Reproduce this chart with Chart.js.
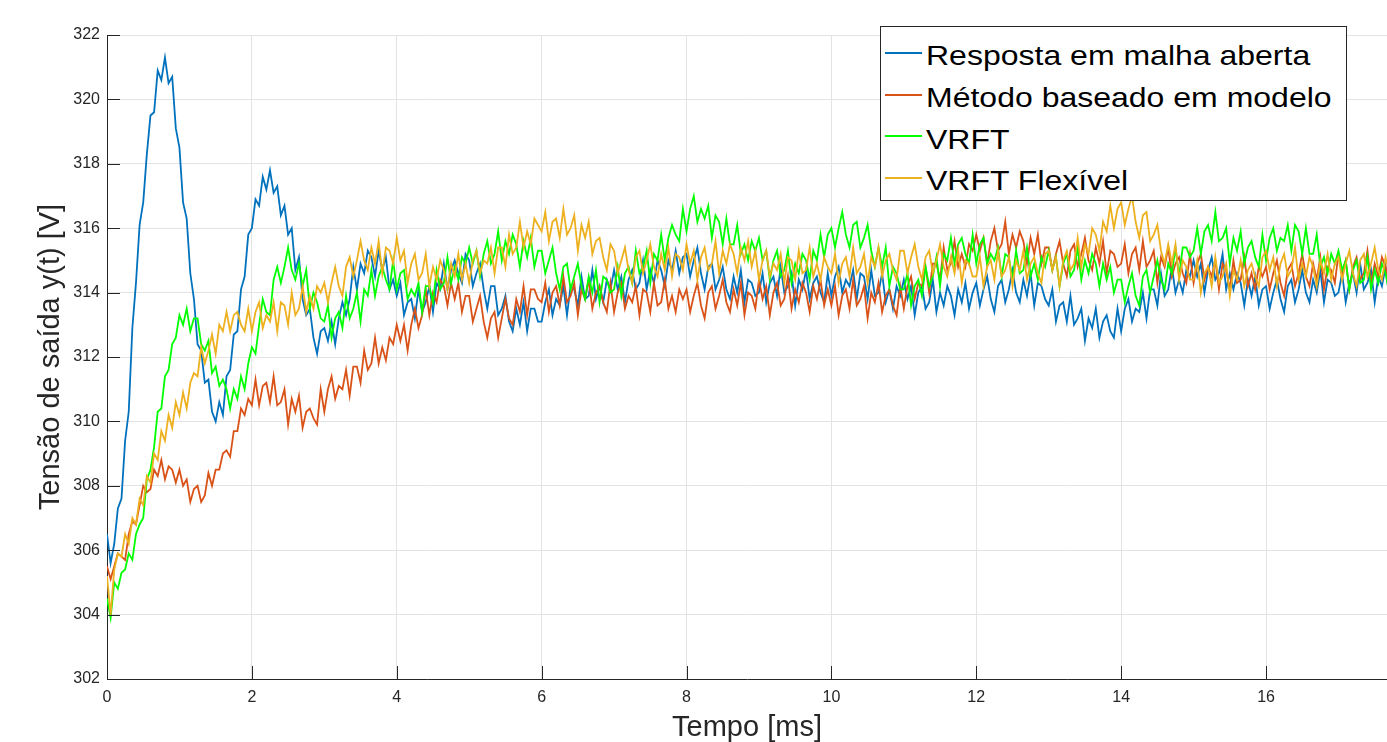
<!DOCTYPE html>
<html>
<head>
<meta charset="utf-8">
<script src="https://cdn.jsdelivr.net/npm/chart.js@4.4.1/dist/chart.umd.min.js"></script>
<style>
html,body{margin:0;padding:0;background:#fff;}
#wrap{position:relative;width:1387px;height:742px;overflow:hidden;}
#legend{position:absolute;left:880px;top:26px;width:467px;height:175px;box-sizing:border-box;border:1px solid #262626;background:#fff;font-family:"Liberation Sans",Arial,sans-serif;}
.row{position:absolute;left:0;height:32px;width:100%;}
.swatch{position:absolute;left:4px;top:12.8px;width:37px;height:2px;}
.lbl{position:absolute;left:45px;top:0;font-size:32px;line-height:32px;white-space:nowrap;color:#000;transform:scaleY(0.87);transform-origin:left center;}
</style>
</head>
<body>
<div id="wrap">
  <canvas id="c" width="1387" height="742"></canvas>
  <div id="legend"></div>
</div>
<script>
// sampling grid (ms)
const sampleStep = 0.05;
const sampleCount = 355;
const time = Array.from({length: sampleCount}, (_, i) => +(i * sampleStep).toFixed(2));

const seriesNames = ['Resposta em malha aberta', 'Método baseado em modelo', 'VRFT', 'VRFT Flexível'];
const seriesColors = ['#0072BD', '#D95319', '#00FF00', '#EDB120'];

const openLoop = [
306.5,305.6,306.2,307.3,307.6,309.4,310.3,312.9,314.3,316.1,316.8,318.3,319.5,319.6,320.9,320.6,321.3,320.5,320.7,319.1,
318.5,316.8,316.3,314.6,313.8,312.4,312.2,311.2,311.3,310.3,310.0,310.6,310.2,311.4,311.6,312.7,312.8,314.1,314.5,315.8,
316.0,316.9,316.7,317.6,317.2,317.8,317.1,317.3,316.4,316.7,315.8,316.0,314.7,315.1,313.8,313.3,313.5,312.6,312.1,312.8,
312.9,312.5,313.1,312.4,313.2,313.7,313.3,313.8,314.8,314.1,314.9,314.6,315.3,315.1,314.5,315.3,314.7,315.1,314.1,314.4,
313.9,314.3,313.3,313.7,313.8,313.2,314.1,313.4,313.7,314.2,313.4,314.3,314.1,314.9,314.1,314.7,315.0,314.6,314.3,315.2,
315.0,314.2,314.6,314.9,314.1,313.5,314.2,314.2,313.3,313.5,313.9,313.1,312.8,313.5,313.0,313.7,312.8,313.5,313.5,313.1,
313.1,313.7,314.1,313.3,313.8,313.6,314.2,313.3,314.2,314.1,313.6,314.5,313.8,313.9,314.7,313.8,314.2,313.7,314.4,314.1,
314.7,314.1,314.5,313.7,314.4,314.7,314.1,314.3,315.0,314.1,314.7,314.3,315.0,314.7,314.2,315.0,314.7,315.3,314.6,315.1,
315.2,314.5,315.0,315.4,314.6,314.1,314.8,314.9,314.1,314.4,314.8,314.1,313.8,314.5,314.0,314.7,313.7,314.4,314.3,313.9,
314.0,314.6,313.7,314.3,314.5,313.9,314.8,314.0,314.2,314.6,313.6,314.4,314.1,314.7,313.8,314.3,314.5,314.0,313.7,314.6,
313.9,314.5,314.8,314.0,314.4,314.2,314.7,313.8,314.6,314.5,313.8,314.7,313.9,314.0,314.6,313.7,314.1,313.5,314.2,313.9,
314.4,313.8,314.2,313.3,314.0,314.2,313.5,313.7,314.4,313.4,314.0,313.6,314.2,313.9,313.3,314.1,313.7,314.3,313.5,314.0,
314.3,313.6,314.1,314.5,313.8,313.4,314.2,314.4,313.7,314.1,314.7,314.0,313.7,314.4,313.9,314.6,313.6,314.3,314.2,313.8,
313.6,314.1,313.1,313.6,313.7,313.1,313.9,313.0,313.2,313.5,312.5,313.2,312.9,313.5,312.6,313.1,313.3,312.8,312.6,313.5,
312.8,313.5,313.8,313.1,313.5,313.4,314.0,313.2,314.1,314.1,313.6,314.6,313.9,314.1,314.8,314.0,314.4,314.0,314.7,314.5,
315.0,314.5,314.9,314.0,314.7,315.1,314.4,314.6,315.2,314.1,314.6,314.1,314.6,314.3,313.6,314.4,313.9,314.5,313.6,314.1,
314.2,313.5,314.0,314.4,313.8,313.4,314.2,314.4,313.7,314.1,314.7,314.0,313.7,314.4,314.0,314.7,313.7,314.4,314.3,313.9,
314.0,314.6,313.7,314.3,314.6,314.0,314.9,314.1,314.3,314.7,313.7,314.5,314.2,314.8,313.9
];

const modelBased = [
305.5,305.1,305.5,305.9,305.8,305.7,306.5,306.9,306.8,307.4,308.0,307.8,307.9,308.5,308.3,308.8,308.2,308.6,308.5,308.1,
308.5,308.0,308.2,307.5,307.9,308.0,307.5,307.7,308.4,308.0,308.5,308.5,309.0,309.1,308.9,309.7,309.7,310.4,310.2,310.7,
310.5,311.3,310.5,311.1,311.2,310.6,311.4,310.5,310.6,311.0,309.9,310.7,310.3,310.8,309.8,310.3,310.4,310.1,309.9,311.0,
310.3,311.0,311.4,310.7,311.1,311.0,311.6,310.8,311.7,311.7,311.2,312.2,311.6,311.8,312.6,311.8,312.3,311.9,312.6,312.4,
313.0,312.5,313.0,312.2,313.0,313.5,312.9,313.3,314.1,313.3,314.0,313.7,314.4,314.2,313.6,314.3,313.8,314.3,313.4,313.9,
313.9,313.1,313.5,313.9,313.1,312.6,313.2,313.4,312.6,313.2,313.8,313.2,313.0,313.8,313.4,314.2,313.3,314.1,314.1,313.8,
313.7,314.3,313.4,314.0,314.2,313.6,314.5,313.7,313.9,314.3,313.3,314.1,313.8,314.4,313.5,314.0,314.2,313.7,313.4,314.3,
313.4,314.0,314.3,313.5,313.9,313.7,314.2,313.3,314.1,314.0,313.4,314.3,313.6,313.7,314.4,313.5,313.9,313.4,314.1,313.8,
314.1,313.4,313.9,314.3,313.6,313.2,314.0,314.2,313.5,313.9,314.4,313.7,313.4,314.1,313.6,314.3,313.3,314.0,313.9,313.5,
314.4,313.8,314.2,313.3,314.0,314.3,313.6,313.8,314.5,313.5,314.1,313.7,314.3,314.0,313.4,314.2,313.8,314.4,313.6,314.1,
313.6,314.2,313.3,313.9,314.1,313.5,314.4,313.6,313.8,314.2,313.2,314.0,313.7,314.3,313.4,313.9,314.1,313.6,313.3,314.2,
313.5,314.2,314.5,313.8,314.3,314.2,314.8,314.0,314.9,314.9,314.4,315.4,314.7,314.9,315.6,314.8,315.2,314.8,315.5,315.3,
315.8,315.3,315.7,314.9,315.6,316.0,315.3,315.5,316.2,315.2,315.8,315.4,315.9,315.6,314.9,315.7,315.2,315.8,314.9,315.4,
315.4,314.7,315.2,315.6,314.9,314.5,315.3,315.5,314.8,315.2,315.7,315.0,314.7,315.4,314.9,315.6,314.6,315.3,315.2,314.8,
314.9,315.5,314.6,315.2,315.4,314.7,315.6,314.8,315.0,315.3,314.3,315.1,314.8,315.4,314.5,314.9,315.1,314.6,314.3,315.2,
314.3,314.9,315.2,314.4,314.8,314.5,315.0,314.1,314.9,314.7,314.1,315.0,314.3,314.4,315.1,314.2,314.6,314.1,314.8,314.5,
314.8,314.1,314.6,315.0,314.3,313.9,314.7,314.9,314.2,314.6,315.2,314.5,314.2,314.9,314.4,315.1,314.1,314.8,314.7,314.3,
315.2,314.6,315.0,314.1,314.8,315.1,314.4,314.6,315.3,314.3,314.9,314.5,315.1,314.8,314.2
];

const vrft = [
304.5,303.9,305.0,304.8,305.3,305.4,305.9,305.7,306.5,306.8,307.0,308.2,308.5,309.2,310.3,310.4,311.4,311.6,312.4,312.6,
313.3,313.0,313.5,312.8,313.2,313.2,312.4,312.2,312.5,311.5,311.7,311.1,311.3,311.0,310.4,311.0,310.7,311.4,311.0,311.8,
312.3,312.1,313.0,313.8,313.4,313.3,314.4,314.8,314.3,314.8,315.4,314.7,314.4,314.9,314.2,314.7,313.5,314.0,313.7,313.2,
313.1,313.6,312.6,313.2,313.4,312.9,313.9,313.2,313.5,314.0,313.1,314.1,313.9,314.7,313.9,314.5,314.8,314.4,314.1,315.0,
314.1,314.6,314.7,313.8,314.1,313.9,314.3,313.4,314.2,314.2,313.7,314.7,314.1,314.3,315.1,314.3,314.8,314.4,315.1,314.9,
315.4,314.9,315.3,314.5,315.2,315.6,314.9,315.2,315.9,315.0,315.6,315.2,315.8,315.5,314.8,315.6,315.1,315.7,314.8,315.3,
315.3,314.6,315.0,315.4,314.6,314.1,314.8,314.9,314.1,314.5,314.9,314.2,313.8,314.5,314.0,314.7,313.7,314.5,314.4,314.0,
314.1,314.8,313.9,314.6,314.8,314.3,315.3,314.6,314.8,315.3,314.3,315.2,315.0,315.8,315.0,315.7,316.1,315.8,315.6,316.6,
315.9,316.6,317.0,316.2,316.6,316.3,316.7,315.7,316.4,316.2,315.5,316.3,315.5,315.5,316.1,315.2,315.5,315.0,315.6,315.3,
315.7,315.0,315.3,314.4,315.0,315.3,314.5,314.7,315.3,314.3,314.9,314.6,315.2,315.0,314.4,315.3,315.0,315.8,315.1,315.8,
316.0,315.4,316.0,316.5,315.8,315.4,316.1,316.2,315.4,315.7,316.1,315.3,314.8,315.4,314.8,315.4,314.2,314.8,314.6,314.1,
314.1,314.6,313.6,314.2,314.4,313.9,314.8,314.2,314.5,315.1,314.2,315.2,315.0,315.7,314.9,315.5,315.7,315.2,314.9,315.8,
314.9,315.5,315.7,314.9,315.2,315.0,315.4,314.5,315.2,315.1,314.4,315.3,314.6,314.7,315.4,314.5,314.9,314.4,315.1,314.8,
315.3,314.7,315.1,314.2,314.9,315.2,314.5,314.7,315.4,314.4,315.0,314.6,315.2,314.9,314.2,314.9,314.4,314.8,314.0,314.4,
314.4,313.7,314.2,314.6,313.9,313.6,314.5,314.7,314.0,314.5,315.0,314.4,314.1,314.9,314.6,315.4,314.5,315.4,315.4,315.1,
315.3,316.0,315.2,315.9,316.1,315.6,316.5,315.6,315.7,316.0,314.9,315.7,315.3,315.9,314.9,315.4,315.6,315.1,314.8,315.8,
315.0,315.7,316.0,315.3,315.7,315.6,316.1,315.3,316.1,315.9,315.2,316.0,315.2,315.2,315.8,314.8,315.1,314.6,315.2,314.9,
315.3,314.7,315.0,314.1,314.7,315.0,314.3,314.4,315.1,314.1,314.7,314.3,314.9,314.6,314.0
];

const vrftFlex = [
305.2,304.0,305.4,305.9,305.8,306.5,306.2,307.0,306.8,307.6,307.4,308.3,308.1,309.0,308.8,309.7,309.4,310.2,309.8,310.6,
310.2,310.9,310.4,311.2,311.5,311.4,312.3,311.8,312.2,312.7,312.1,313.0,312.8,313.4,312.8,313.3,313.4,313.0,312.8,313.5,
312.8,313.4,313.7,312.9,313.3,313.1,313.7,312.8,313.7,313.6,313.0,314.0,313.3,313.5,314.2,313.4,313.9,313.5,314.2,314.0,
314.3,313.7,314.3,314.8,314.2,313.9,314.8,315.1,314.5,315.0,315.6,315.0,314.7,315.4,314.9,315.6,314.6,315.4,315.3,314.9,
315.7,315.0,315.3,314.3,314.9,315.2,314.4,314.6,315.2,314.2,314.8,314.4,315.0,314.7,314.1,314.9,314.5,315.2,314.4,314.9,
314.3,315.0,315.3,314.6,315.0,314.9,315.4,314.6,315.4,315.4,314.8,315.8,315.2,315.4,316.2,315.4,315.9,315.5,316.3,316.1,
315.9,316.5,315.6,316.2,316.3,315.7,316.6,315.8,316.0,316.4,315.3,316.1,315.7,316.2,315.2,315.6,315.7,315.1,314.7,315.5,
315.3,314.6,315.0,315.4,314.7,314.3,315.1,315.3,314.6,315.0,315.5,314.8,314.5,315.2,314.7,315.4,314.5,315.2,315.1,314.7,
315.5,314.9,315.3,314.4,315.1,315.4,314.7,314.9,315.6,314.6,315.3,314.9,315.5,315.2,314.6,315.4,315.0,315.6,314.8,315.3,
314.4,315.0,315.3,314.5,314.9,314.7,315.2,314.3,315.1,315.0,314.4,315.3,314.6,314.7,315.4,314.5,314.9,314.4,315.1,314.8,
314.6,315.2,314.3,314.9,315.1,314.5,315.4,314.6,314.8,315.2,314.3,315.1,314.8,315.4,314.5,315.0,315.2,314.7,314.4,315.3,
315.3,314.6,315.1,315.5,314.8,314.4,315.1,315.3,314.6,315.0,315.5,314.8,314.5,315.1,314.6,315.3,314.3,315.0,314.9,314.5,
314.5,315.1,314.2,314.8,315.0,314.4,315.3,314.5,314.7,315.1,314.2,315.0,314.7,315.3,314.4,314.9,315.1,314.6,314.3,315.2,
315.3,314.7,315.1,314.2,315.0,315.3,314.7,314.9,315.7,314.8,315.5,315.2,316.0,315.8,315.3,316.2,315.9,316.7,316.0,316.6,
316.8,316.1,316.6,317.0,316.2,315.7,316.4,316.5,315.6,315.8,316.1,315.3,314.9,315.5,314.9,315.5,314.4,315.0,314.8,314.4,
314.4,315.0,314.0,314.6,314.8,314.2,315.1,314.3,314.5,314.9,313.9,314.7,314.4,315.0,314.2,314.7,314.9,314.5,314.2,315.1,
315.3,314.7,315.1,314.2,314.9,315.2,314.5,314.7,315.4,314.4,314.9,314.5,315.1,314.8,314.2,315.0,314.6,315.2,314.4,314.9,
315.1,314.4,314.9,315.3,314.6,314.2,315.0,315.2,314.5,314.9,315.4,314.7,314.4,315.1,314.6
];

const xTickStep = 2;
const yTickStep = 2;
const xMin = 0, xMax = 17.67;
const yMin = 302, yMax = 322;

const seriesValues = [openLoop, modelBased, vrft, vrftFlex];
const drawOrder = [4, 3, 2, 1];

const FONT = '"Liberation Sans", Arial, Helvetica, sans-serif';

const datasets = seriesValues.map((vals, k) => ({
  label: seriesNames[k],
  data: vals.map((v, i) => ({x: time[i], y: v})),
  borderColor: seriesColors[k],
  backgroundColor: seriesColors[k],
  borderWidth: 1.8,
  pointRadius: 0,
  tension: 0,
  fill: false,
  order: drawOrder[k]
}));

const inwardTicks = {
  id: 'inwardTicks',
  afterDatasetsDraw(chart) {
    const {ctx, chartArea: {left, bottom}, scales: {x, y}} = chart;
    ctx.save();
    ctx.strokeStyle = '#262626';
    ctx.lineWidth = 1;
    x.ticks.forEach(t => {
      const px = Math.round(x.getPixelForValue(t.value)) + 0.5;
      ctx.beginPath(); ctx.moveTo(px, bottom); ctx.lineTo(px, bottom - 13); ctx.stroke();
    });
    y.ticks.forEach(t => {
      const py = Math.round(y.getPixelForValue(t.value)) + 0.5;
      ctx.beginPath(); ctx.moveTo(left, py); ctx.lineTo(left + 13, py); ctx.stroke();
    });
    ctx.restore();
  }
};

new Chart(document.getElementById('c'), {
  type: 'line',
  data: {datasets},
  options: {
    responsive: false,
    animation: false,
    events: [],
    devicePixelRatio: 1,
    layout: {padding: {top: 35, left: 0, right: 0, bottom: 0}},
    plugins: {legend: {display: false}, tooltip: {enabled: false}},
    scales: {
      x: {
        type: 'linear', min: xMin, max: xMax,
        border: {display: true, color: '#262626', width: 1},
        grid: {color: '#e3e3e3', lineWidth: 1, drawTicks: false},
        ticks: {stepSize: xTickStep, includeBounds: false, padding: 9, color: '#262626',
                font: {family: FONT, size: 16}, maxRotation: 0, autoSkip: false},
        title: {display: true, text: 'Tempo [ms]', color: '#262626',
                font: {family: FONT, size: 29, lineHeight: 1}, padding: {top: 0, bottom: 0}},
        afterFit: s => { s.height = 63; }
      },
      y: {
        type: 'linear', min: yMin, max: yMax,
        border: {display: true, color: '#262626', width: 1},
        grid: {color: '#e3e3e3', lineWidth: 1, drawTicks: false},
        ticks: {stepSize: yTickStep, padding: 7, color: '#262626',
                font: {family: FONT, size: 16}, autoSkip: false},
        title: {display: true, text: 'Tensão de saída y(t) [V]', color: '#262626',
                font: {family: FONT, size: 29, lineHeight: 1}, padding: {top: 36.5, bottom: 0}},
        afterFit: s => { s.width = 107; }
      }
    }
  },
  plugins: [inwardTicks]
});

// legend (built from the same series arrays)
const legendRowTops = [12, 54, 95.5, 137];
const legendEl = document.getElementById('legend');
seriesNames.forEach((name, k) => {
  const row = document.createElement('div');
  row.className = 'row';
  row.style.top = legendRowTops[k] + 'px';
  const sw = document.createElement('div');
  sw.className = 'swatch';
  sw.style.background = seriesColors[k];
  const lb = document.createElement('div');
  lb.className = 'lbl';
  lb.textContent = name;
  row.appendChild(sw);
  row.appendChild(lb);
  legendEl.appendChild(row);
});
</script>
</body>
</html>
